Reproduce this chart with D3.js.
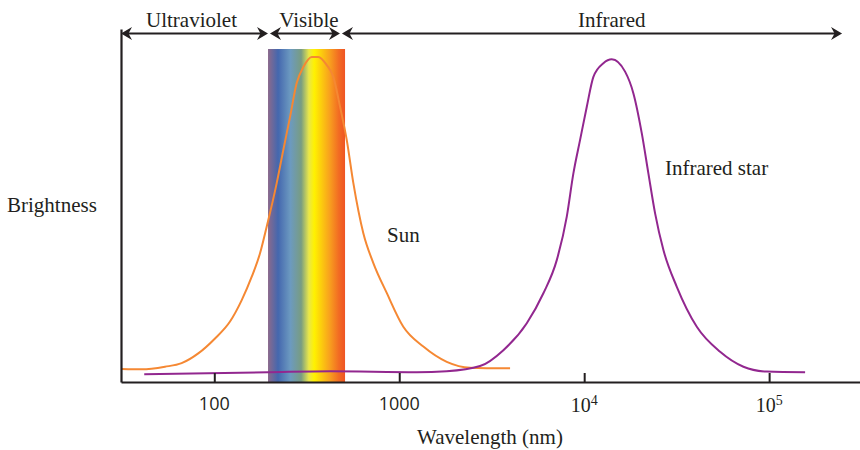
<!DOCTYPE html>
<html>
<head>
<meta charset="utf-8">
<script src="https://cdn.jsdelivr.net/npm/d3@7"></script>
<style>
  html, body { margin: 0; padding: 0; background: #ffffff; }
  svg { display: block; }
</style>
</head>
<body>
<svg id="chart" width="860" height="450"></svg>
<script>
// ---------- data ----------
const sunWavelength = [31.6, 40.5, 54.1, 66.6, 81.9, 100.9, 121.6, 140.7, 159.4, 176.7, 192.0, 217.5, 236.2, 256.7, 279.0, 302.9, 336.4, 365.2, 405.5, 440.1, 478.5, 520.1, 564.8, 639.5, 724.4, 855.9, 1052, 1350, 1807, 2415, 3974];
const sunBrightness = [0.040, 0.039, 0.047, 0.058, 0.088, 0.134, 0.186, 0.252, 0.324, 0.396, 0.478, 0.612, 0.714, 0.815, 0.920, 0.969, 1.000, 1.000, 0.975, 0.939, 0.847, 0.745, 0.612, 0.458, 0.366, 0.274, 0.170, 0.109, 0.062, 0.044, 0.042];

const starWavelength = [41.8, 195.9, 422.4, 1243, 1807, 2735, 3656, 4893, 6017, 7108, 8052, 8742, 9502, 10330, 11215, 12700, 14100, 16640, 18460, 20490, 22240, 24180, 26820, 31680, 40640, 54330, 72610, 97190, 156500];
const starBrightness = [0.024, 0.030, 0.033, 0.030, 0.033, 0.049, 0.098, 0.181, 0.273, 0.375, 0.509, 0.642, 0.745, 0.847, 0.939, 0.981, 0.993, 0.955, 0.888, 0.765, 0.642, 0.519, 0.406, 0.293, 0.170, 0.093, 0.047, 0.032, 0.030];

const xDomain = [31.3, 310000];
const tickValues = [100, 1000, 10000, 100000];
const tickBase = ["100", "1000", "10", "10"];
const tickExponent = ["", "", "4", "5"];

const regionNames = ["Ultraviolet", "Visible", "Infrared"];
const regionFrom = [31.3, 197.6, 484];
const regionTo = [197.6, 484, 251000];
const visibleBand = [195.2, 509.3];
const spectrumColors = ["#8c6a8c", "#4467ae", "#6c9ac0", "#789c82", "#e9e64a", "#fff200", "#f8a01e", "#f26b23", "#ef5423"];
const spectrumOffsets = [0, 0.13, 0.29, 0.43, 0.53, 0.6, 0.8, 0.92, 1];

const seriesLabels = ["Sun", "Infrared star"];
const seriesLabelWavelength = [859, 27350];
const seriesLabelBrightness = [0.431, 0.638];

// ---------- layout ----------
const svg = d3.select("#chart");
const ink = "#231f20";
const sunColor = "#f58833";
const starColor = "#92278f";
const serif = "'Liberation Serif', 'Times New Roman', serif";
const sans = "'Open Sans', 'Liberation Sans', sans-serif";
const labelSize = 21;

const x = d3.scaleLog().domain(xDomain).range([121, 860]);
const y = d3.scaleLinear().domain([0, 1]).range([382, 57]);

// spectrum gradient
const defs = svg.append("defs");
const grad = defs.append("linearGradient").attr("id", "spectrum")
  .attr("x1", "0%").attr("x2", "100%").attr("y1", "0%").attr("y2", "0%");
grad.selectAll("stop").data(spectrumColors).join("stop")
  .attr("offset", (d, i) => spectrumOffsets[i])
  .attr("stop-color", d => d);

svg.append("rect")
  .attr("x", x(visibleBand[0]))
  .attr("width", x(visibleBand[1]) - x(visibleBand[0]))
  .attr("y", 49)
  .attr("height", y(0) - 49)
  .attr("fill", "url(#spectrum)");

// curves
const line = d3.line()
  .x(d => x(d[0]))
  .y(d => y(d[1]))
  .curve(d3.curveMonotoneX);

svg.append("path")
  .datum(sunWavelength.map((w, i) => [w, sunBrightness[i]]))
  .attr("d", line)
  .attr("fill", "none")
  .attr("stroke", sunColor)
  .attr("stroke-width", 2);

svg.append("path")
  .datum(starWavelength.map((w, i) => [w, starBrightness[i]]))
  .attr("d", line)
  .attr("fill", "none")
  .attr("stroke", starColor)
  .attr("stroke-width", 2);

// x axis
const xAxis = d3.axisBottom(x)
  .tickValues(tickValues)
  .tickSizeInner(-9)
  .tickSizeOuter(0)
  .tickFormat("");
const gx = svg.append("g").attr("transform", `translate(0,${y(0)})`).call(xAxis);
gx.select(".domain").attr("stroke", ink).attr("stroke-width", 2.2);
gx.selectAll(".tick line").attr("stroke", ink).attr("stroke-width", 2);

// tick labels
tickValues.forEach((v, i) => {
  const t = svg.append("text")
    .attr("x", x(v))
    .attr("y", tickExponent[i] ? 411.7 : 409.5)
    .attr("text-anchor", "middle")
    .attr("fill", ink);
  if (tickExponent[i]) {
    t.attr("font-family", serif);
    t.append("tspan").attr("font-size", 20).text(tickBase[i]);
    t.append("tspan").attr("font-size", 14).attr("dy", -7).text(tickExponent[i]);
  } else {
    t.attr("font-family", sans).attr("font-size", 18).text(tickBase[i]);
  }
});

// y axis (no ticks)
const yAxisScale = y.copy().domain([0, y.invert(29)]).range([y(0), 29]);
const gy = svg.append("g").attr("transform", `translate(${x(xDomain[0])},0)`)
  .call(d3.axisLeft(yAxisScale).tickValues([]).tickSizeOuter(0));
gy.select(".domain").attr("stroke", ink).attr("stroke-width", 2.2);

// region arrows
const arrowY = 33.5;
function arrowHead(tx, dir) {
  const L = 11, W = 6.5, N = 7.5;
  return `M${tx},${arrowY} L${tx - dir * L},${arrowY - W} L${tx - dir * N},${arrowY} L${tx - dir * L},${arrowY + W} Z`;
}
regionNames.forEach((name, i) => {
  const x0 = x(regionFrom[i]) + (i === 0 ? 0 : 1);
  const x1 = x(regionTo[i]) - 1;
  svg.append("line")
    .attr("x1", x0 + 5).attr("x2", x1 - 5)
    .attr("y1", arrowY).attr("y2", arrowY)
    .attr("stroke", ink).attr("stroke-width", 2);
  svg.append("path").attr("d", arrowHead(x0, -1)).attr("fill", ink);
  svg.append("path").attr("d", arrowHead(x1, 1)).attr("fill", ink);
  const lx = i === 2 ? x(14100) : (x0 + x1) / 2 - (i === 0 ? 3 : -4);
  svg.append("text")
    .attr("x", lx).attr("y", 26.7)
    .attr("text-anchor", "middle")
    .attr("font-family", serif).attr("font-size", labelSize)
    .attr("fill", ink)
    .text(name);
});

// series labels
seriesLabels.forEach((s, i) => {
  svg.append("text")
    .attr("x", x(seriesLabelWavelength[i]))
    .attr("y", y(seriesLabelBrightness[i]))
    .attr("font-family", serif).attr("font-size", labelSize)
    .attr("fill", ink)
    .text(s);
});

// axis titles
svg.append("text")
  .attr("x", 7).attr("y", 212.3)
  .attr("font-family", serif).attr("font-size", labelSize)
  .attr("fill", ink)
  .text("Brightness");

svg.append("text")
  .attr("x", 490).attr("y", 443.5)
  .attr("text-anchor", "middle")
  .attr("font-family", serif).attr("font-size", labelSize)
  .attr("fill", ink)
  .text("Wavelength (nm)");
</script>
</body>
</html>
